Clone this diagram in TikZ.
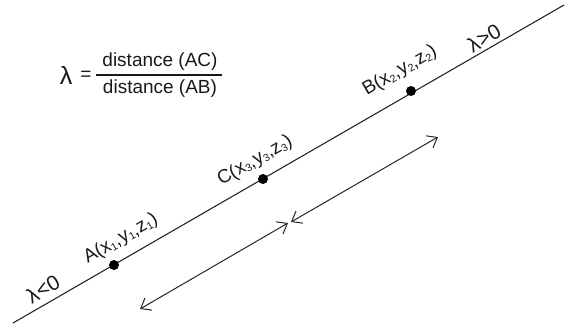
\documentclass[tikz,border=0pt]{standalone}
\usepackage{fontspec}
\setmainfont{Liberation Sans}
\usetikzlibrary{arrows.meta}
\newcommand\sbs[1]{\raisebox{-0.2ex}{\fontsize{10.5}{10.5}\selectfont #1}}
\begin{document}
\begin{tikzpicture}[x=1pt,y=-1pt,
  txt/.style={inner sep=0pt,text=black!90,font=\fontsize{19}{21}\selectfont},
  lbl/.style={txt,rotate=30},
  mainline/.style={line width=1.1pt,draw=black!85},
  dimarrow/.style={line width=1pt,draw=black!85,{Straight Barb[length=9pt,width=14pt]}-{Straight Barb[length=9pt,width=14pt]}},
  dot/.style={circle,fill=black,inner sep=0pt,minimum size=10pt}]
\useasboundingbox (0,0) rectangle (571,329);
% main line
\coordinate (L0) at (13,323);
\coordinate (L1) at (564,5);
\draw[mainline] (L0) -- (L1);
\node[dot] (A) at (114,265) {};
\node[dot] (C) at (263,179) {};
\node[dot] (B) at (411,91) {};
% labels
\node[lbl] (Alab) at (121,239) {A(x\sbs{1},y\sbs{1},z\sbs{1})};
\node[lbl] (Clab) at (255,161) {C(x\sbs{3},y\sbs{3},z\sbs{3})};
\node[lbl] (Blab) at (400,71) {B(x\sbs{2},y\sbs{2},z\sbs{2})};
\node[lbl,font=\fontsize{21}{23}\selectfont] (lpos) at (484,38) {λ>0};
\node[lbl,font=\fontsize{21}{23}\selectfont] (lneg) at (43,289) {λ<0};
% dimension arrows
\coordinate (D0) at (140,309);
\coordinate (D1) at (288,223);
\coordinate (D2) at (291,222);
\coordinate (D3) at (438,137);
\draw[dimarrow] (D0) -- (D1);
\draw[dimarrow] (D2) -- (D3);
% formula
\node[txt,font=\fontsize{25}{27}\selectfont] (lam) at (66,75) {λ};
\node[txt] (eq) at (86,76) {=};
\node[txt] (num) at (160,62) {distance (AC)};
\node[txt] (den) at (160,89) {distance (AB)};
\coordinate (F0) at (96,75);
\coordinate (F1) at (222,75);
\draw[line width=1.2pt,black!90] (F0) -- (F1);
\end{tikzpicture}
\end{document}
